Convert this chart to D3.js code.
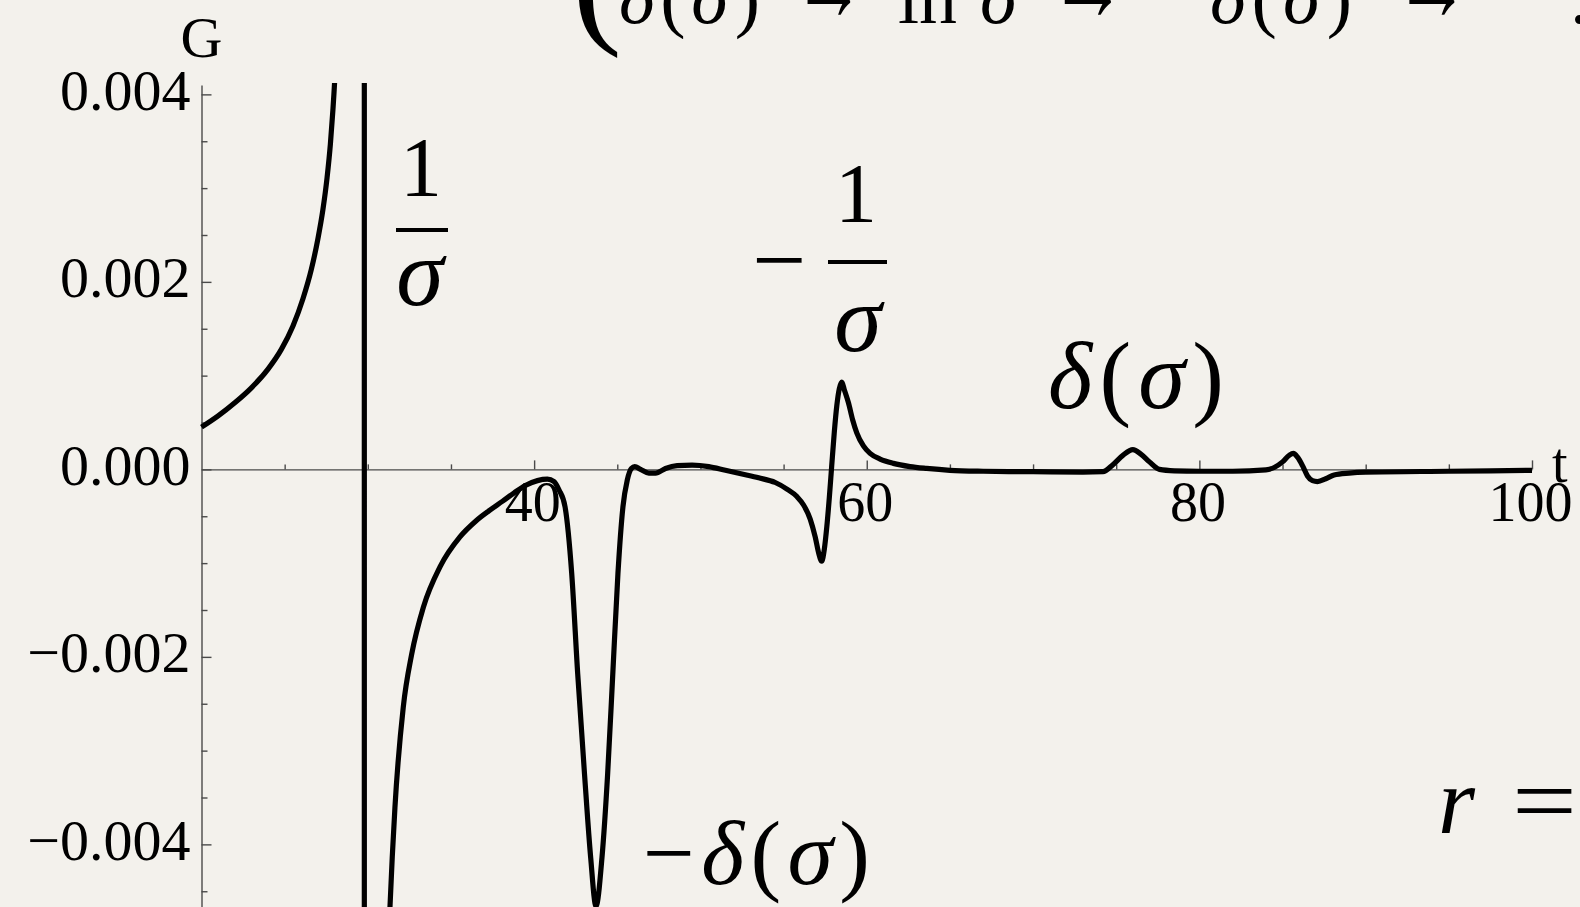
<!DOCTYPE html>
<html>
<head>
<meta charset="utf-8">
<script src="https://cdn.jsdelivr.net/npm/d3@7"></script>
<style>
  html, body { margin: 0; padding: 0; background: #f3f1ec; overflow: hidden; }
  svg { display: block; }
  text { font-family: "Liberation Serif", "Times New Roman", serif; fill: #000; }
</style>
</head>
<body>
<svg id="chart" width="1580" height="907"></svg>
<script>
// Green's function G(t): sampled values (t, G)
const tValues = [
  20.0, 21.0, 22.0, 23.0, 24.0, 24.8, 25.5, 26.1, 26.6, 27.0, 27.3, 27.55, 27.75, 27.9, 28.0,
  28.1, 28.4, 28.8, 29.3, 29.77, 29.79, 29.81, 29.85, 30.3, 30.8, 31.1,
  31.33, 31.63, 32.13, 32.64, 33.34, 34.34, 35.54, 36.5, 37.3, 38.1, 38.8, 39.5, 40.2, 40.8, 41.2, 41.5,
  41.86, 42.26, 42.62, 43.03, 43.40, 43.72, 44.08, 44.42, 44.73, 45.04, 45.34, 45.60, 45.85, 46.05, 46.4, 46.9, 47.3, 47.9, 48.6, 49.5, 50.5, 51.5, 52.5, 53.5, 54.5, 55.2, 55.8, 56.2, 56.6, 56.9, 57.12, 57.29, 57.45, 57.6, 57.75, 57.89,
  58.05, 58.2, 58.35, 58.5, 58.65, 58.9, 59.15, 59.4, 59.8, 60.2, 60.8, 61.6, 62.6, 63.6, 65.0, 67.0, 70.0, 73.0, 74.2,
  74.8, 75.4, 76.0, 76.5, 77.0, 77.6, 78.5, 80.0, 82.0, 84.0, 84.5, 85.0, 85.4, 85.65, 85.9, 86.2, 86.5, 86.8, 87.1, 87.6, 88.1, 89.0, 90.0, 95.0, 100.0
];
const gValues = [
  0.00045, 0.00057, 0.00071, 0.00087, 0.00107, 0.00128, 0.00153, 0.00182, 0.00213, 0.00246, 0.00277, 0.00311, 0.00347, 0.00383, 0.00412,
  0.0045, 0.0062, 0.009, 0.016, 0.3, 0.0, -0.3, -0.05, -0.015, -0.008, -0.0058,
  -0.00468, -0.00361, -0.00254, -0.00197, -0.00147, -0.00104, -0.00072, -0.00055, -0.00044, -0.00034, -0.00025, -0.00017, -0.00012, -0.000105, -0.00013, -0.00022,
  -0.0004, -0.00111, -0.00218, -0.00325, -0.00414, -0.00466, -0.00414, -0.00325, -0.00218, -0.00111, -0.0004, -0.000114, 0.00001, 0.00003, 0.0, -0.00004, -0.00004, 0.00001, 0.00004, 0.000046, 0.00003, -0.00001, -0.00005, -0.00009, -0.00014, -0.00021, -0.00029, -0.00038, -0.00053, -0.00072, -0.0009, -0.00098, -0.00085, -0.00061, -0.0003, 0.00003,
  0.0004, 0.00068, 0.00086, 0.00093, 0.00085, 0.00071, 0.00053, 0.00039, 0.00025, 0.00017, 0.00011, 0.000064, 0.00003, 0.00001, -0.00001, -0.00002, -0.000025, -0.00003, -0.000025,
  0.00005, 0.00015, 0.00021, 0.00016, 0.00008, 0.0, -0.000015, -0.00002, -0.00002, -0.000005, 0.00002, 0.00008, 0.00015, 0.00017, 0.00013, 0.00004, -0.00007, -0.00012, -0.00013, -0.0001, -0.00006, -0.00004, -0.00003, -0.00002, -0.00001
];

// Axis ticks
const xMajorTicks = [40, 60, 80, 100];
const xMinorTicks = [25, 30, 35, 45, 50, 55, 65, 70, 75, 85, 90, 95];
const yMajorTicks = [-0.004, -0.002, 0, 0.002, 0.004];
const yMajorLabels = ["\u22120.004", "\u22120.002", "0.000", "0.002", "0.004"];
const yMinorTicks = [-0.0045, -0.0035, -0.003, -0.0025, -0.0015, -0.001, -0.0005, 0.0005, 0.001, 0.0015, 0.0025, 0.003, 0.0035];

const svg = d3.select("#chart");
svg.append("rect").attr("width", 1580).attr("height", 907).attr("fill", "#f3f1ec");

const x = d3.scaleLinear().domain([20, 100]).range([201.5, 1532]);
const y = d3.scaleLinear().domain([-0.0047, 0.0041]).range([910, 85]);

const axisColor = "#4a4a4a";

// x axis (ticks point up, labels below)
const xAxisG = svg.append("g").attr("transform", `translate(0,${y(0)})`);
xAxisG.append("g")
  .call(d3.axisBottom(x).tickValues(xMinorTicks).tickSize(-5).tickSizeOuter(0).tickFormat(""))
  .call(g => g.select(".domain").remove());
xAxisG.append("g")
  .call(d3.axisBottom(x).tickValues(xMajorTicks).tickSize(-9).tickSizeOuter(0).tickPadding(0))
  .call(g => g.selectAll("text")
    .attr("y", 52).attr("dy", 0).attr("dx", -2)
    .style("font-size", "56px").style("font-family", "'Liberation Serif', serif").attr("fill", "#000"));
xAxisG.selectAll("line, path").attr("stroke", axisColor).attr("stroke-width", 1.4);

// y axis (ticks point right, labels left)
const yAxisG = svg.append("g").attr("transform", `translate(${x(20)},0)`);
yAxisG.append("g")
  .call(d3.axisLeft(y).tickValues(yMinorTicks).tickSize(-6).tickSizeOuter(0).tickFormat(""))
  .call(g => g.select(".domain").remove());
yAxisG.append("g")
  .call(d3.axisLeft(y).tickValues(yMajorTicks).tickSize(-10).tickSizeOuter(0).tickPadding(11)
    .tickFormat((d, i) => yMajorLabels[i]))
  .call(g => g.selectAll("text")
    .attr("dy", 15)
    .style("font-size", "58px").style("font-family", "'Liberation Serif', serif").attr("fill", "#000"));
yAxisG.selectAll("line, path").attr("stroke", axisColor).attr("stroke-width", 1.4);

// Axis names
svg.append("text").attr("x", x(20)).attr("y", 57).attr("text-anchor", "middle")
  .style("font-size", "58px").text("G");
svg.append("text").attr("x", 1552).attr("y", 482)
  .style("font-size", "56px").text("t");

// Curve, clipped to the plot range
svg.append("clipPath").attr("id", "plotClip")
  .append("rect").attr("x", 150).attr("y", 83).attr("width", 1420).attr("height", 830);

const points = tValues.map((t, i) => ({ t, g: gValues[i] }));
const line = d3.line().x(d => x(d.t)).y(d => y(d.g)).curve(d3.curveMonotoneX);
svg.append("path")
  .datum(points)
  .attr("clip-path", "url(#plotClip)")
  .attr("fill", "none")
  .attr("stroke", "#000")
  .attr("stroke-width", 5.2)
  .attr("stroke-linejoin", "round")
  .attr("d", line);

// Mathematical annotations
function mathRun(px, py, size, parts, opts = {}) {
  const t = svg.append("text").attr("x", px).attr("y", py).style("font-size", size + "px");
  if (opts.anchor) t.attr("text-anchor", opts.anchor);
  if (opts.length) t.attr("textLength", opts.length).attr("lengthAdjust", opts.adjust || "spacing");
  parts.forEach(([s, st]) => {
    t.append("tspan").text(s).style("font-style", st === "i" ? "italic" : "normal");
  });
  return t;
}
function fractionBar(x1, x2, yy) {
  svg.append("line").attr("x1", x1).attr("x2", x2).attr("y1", yy).attr("y2", yy)
    .attr("stroke", "#000").attr("stroke-width", 4);
}

// 1/σ
mathRun(421, 196, 84, [["1", "u"]], { anchor: "middle" });
fractionBar(396, 448, 230);
mathRun(420, 305, 96, [["\u03c3", "i"]], { anchor: "middle" });

// −1/σ
mathRun(752, 292, 96, [["\u2212", "u"]]);
mathRun(856, 222, 84, [["1", "u"]], { anchor: "middle" });
fractionBar(828, 887, 262);
mathRun(858, 351, 96, [["\u03c3", "i"]], { anchor: "middle" });

// δ(σ)
mathRun(1048, 408, 95, [["\u03b4", "i"], ["(", "u"], ["\u03c3", "i"], [")", "u"]], { length: 176 });

// −δ(σ)
mathRun(643, 884, 92, [["\u2212", "u"], ["\u03b4", "i"], ["(", "u"], ["\u03c3", "i"], [")", "u"]], { length: 227 });

// r =
mathRun(1438, 833, 95, [["r", "i"]]);
mathRun(1512, 833, 95, [["=", "u"]], { length: 65, adjust: "spacingAndGlyphs" });

// Sequence along the top edge
mathRun(572, 26, 150, [["(", "u"]]);
mathRun(619, 23, 76, [["\u03b4", "i"], ["(", "u"], ["\u03c3", "i"], [")", "u"]], { length: 141 });
mathRun(793, 20, 110, [["\u2192", "u"]], { length: 72, adjust: "spacingAndGlyphs" });
mathRun(898, 23, 76, [["ln", "u"]]);
mathRun(980, 23, 76, [["\u03c3", "i"]]);
mathRun(1049, 20, 110, [["\u2192", "u"]], { length: 78, adjust: "spacingAndGlyphs" });
mathRun(1161, 23, 76, [["\u2212", "u"], ["\u03b4", "i"], ["(", "u"], ["\u03c3", "i"], [")", "u"]], { length: 191 });
mathRun(1394, 20, 110, [["\u2192", "u"]], { length: 76, adjust: "spacingAndGlyphs" });
mathRun(1503, 23, 76, [["\u2212", "u"]]);
mathRun(1570, 23, 76, [[".", "u"]]);
</script>
</body>
</html>
